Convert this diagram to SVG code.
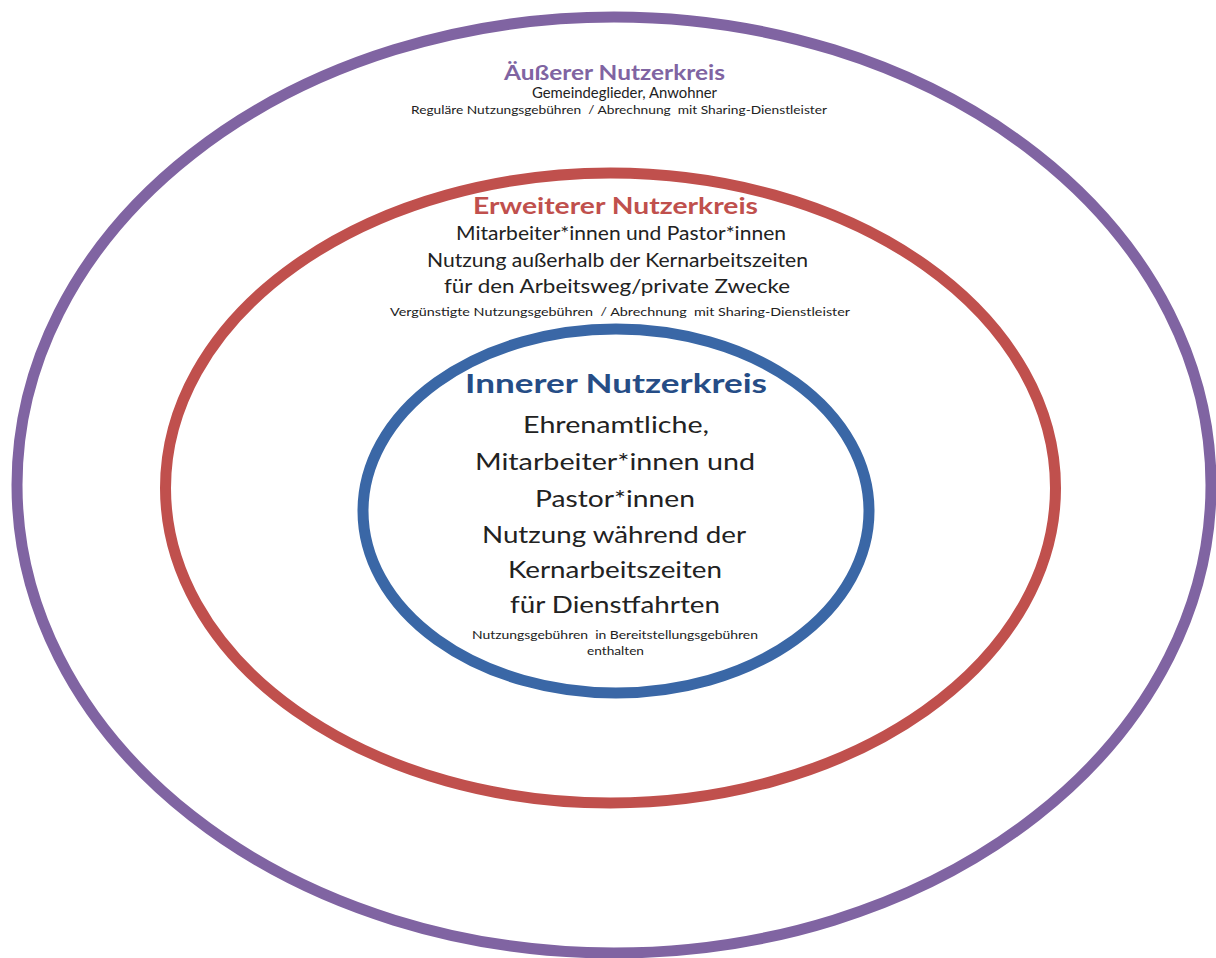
<svg xmlns="http://www.w3.org/2000/svg" width="1216" height="958" viewBox="0 0 1216 958">
  <style>
    .ring { fill: none; stroke-width: 11; }
    text { font-family: Lato, "Open Sans", "Liberation Sans", sans-serif; text-anchor: middle; fill: #222222; white-space: pre; }
    .title { font-weight: bold; }
    .outer-c { stroke: #8064A2; }
    .mid-c { stroke: #C0504D; }
    .inner-c { stroke: #3A67A6; }
  </style>
  <rect width="1216" height="958" fill="#ffffff"/>

  <!-- Outer user circle -->
  <g id="outer-circle">
    <ellipse class="ring outer-c" cx="614" cy="485" rx="597" ry="468"/>
    <text class="title" x="614.5" y="80" font-size="21" style="fill:#8064A2" textLength="221" lengthAdjust="spacingAndGlyphs">Äußerer Nutzerkreis</text>
    <text x="624.5" y="98" font-size="14.5" textLength="185" lengthAdjust="spacingAndGlyphs">Gemeindeglieder, Anwohner</text>
    <text x="619" y="114" font-size="10.5" textLength="416" lengthAdjust="spacingAndGlyphs">Reguläre Nutzungsgebühren  / Abrechnung  mit Sharing-Dienstleister</text>
  </g>

  <!-- Extended user circle -->
  <g id="extended-circle">
    <ellipse class="ring mid-c" cx="610.5" cy="488" rx="445" ry="315"/>
    <text class="title" x="615.5" y="214" font-size="23" style="fill:#C0504D" textLength="285" lengthAdjust="spacingAndGlyphs">Erweiterer Nutzerkreis</text>
    <text x="621" y="240" font-size="18.5" textLength="330" lengthAdjust="spacingAndGlyphs">Mitarbeiter*innen und Pastor*innen</text>
    <text x="617.5" y="267" font-size="18.5" textLength="381" lengthAdjust="spacingAndGlyphs">Nutzung außerhalb der Kernarbeitszeiten</text>
    <text x="617" y="293" font-size="18.5" textLength="346" lengthAdjust="spacingAndGlyphs">für den Arbeitsweg/private Zwecke</text>
    <text x="620" y="316" font-size="10.5" textLength="460" lengthAdjust="spacingAndGlyphs">Vergünstigte Nutzungsgebühren  / Abrechnung  mit Sharing-Dienstleister</text>
  </g>

  <!-- Inner user circle -->
  <g id="inner-circle">
    <ellipse class="ring inner-c" cx="616" cy="511" rx="253" ry="182" stroke-width="12"/>
    <text class="title" x="616" y="393" font-size="27.5" style="fill:#264D86" textLength="302" lengthAdjust="spacingAndGlyphs">Innerer Nutzerkreis</text>
    <text x="616" y="433" font-size="24" textLength="186" lengthAdjust="spacingAndGlyphs">Ehrenamtliche,</text>
    <text x="615" y="470" font-size="24" textLength="280" lengthAdjust="spacingAndGlyphs">Mitarbeiter*innen und</text>
    <text x="615" y="507" font-size="24" textLength="160" lengthAdjust="spacingAndGlyphs">Pastor*innen</text>
    <text x="614" y="543" font-size="24" textLength="264" lengthAdjust="spacingAndGlyphs">Nutzung während der</text>
    <text x="615" y="578" font-size="24" textLength="214" lengthAdjust="spacingAndGlyphs">Kernarbeitszeiten</text>
    <text x="615" y="613" font-size="24" textLength="210" lengthAdjust="spacingAndGlyphs">für Dienstfahrten</text>
    <text x="615" y="639" font-size="10.5" textLength="286" lengthAdjust="spacingAndGlyphs">Nutzungsgebühren  in Bereitstellungsgebühren</text>
    <text x="615.5" y="655" font-size="10.5" textLength="57" lengthAdjust="spacingAndGlyphs">enthalten</text>
  </g>

  <g id="connectors"/>
</svg>
